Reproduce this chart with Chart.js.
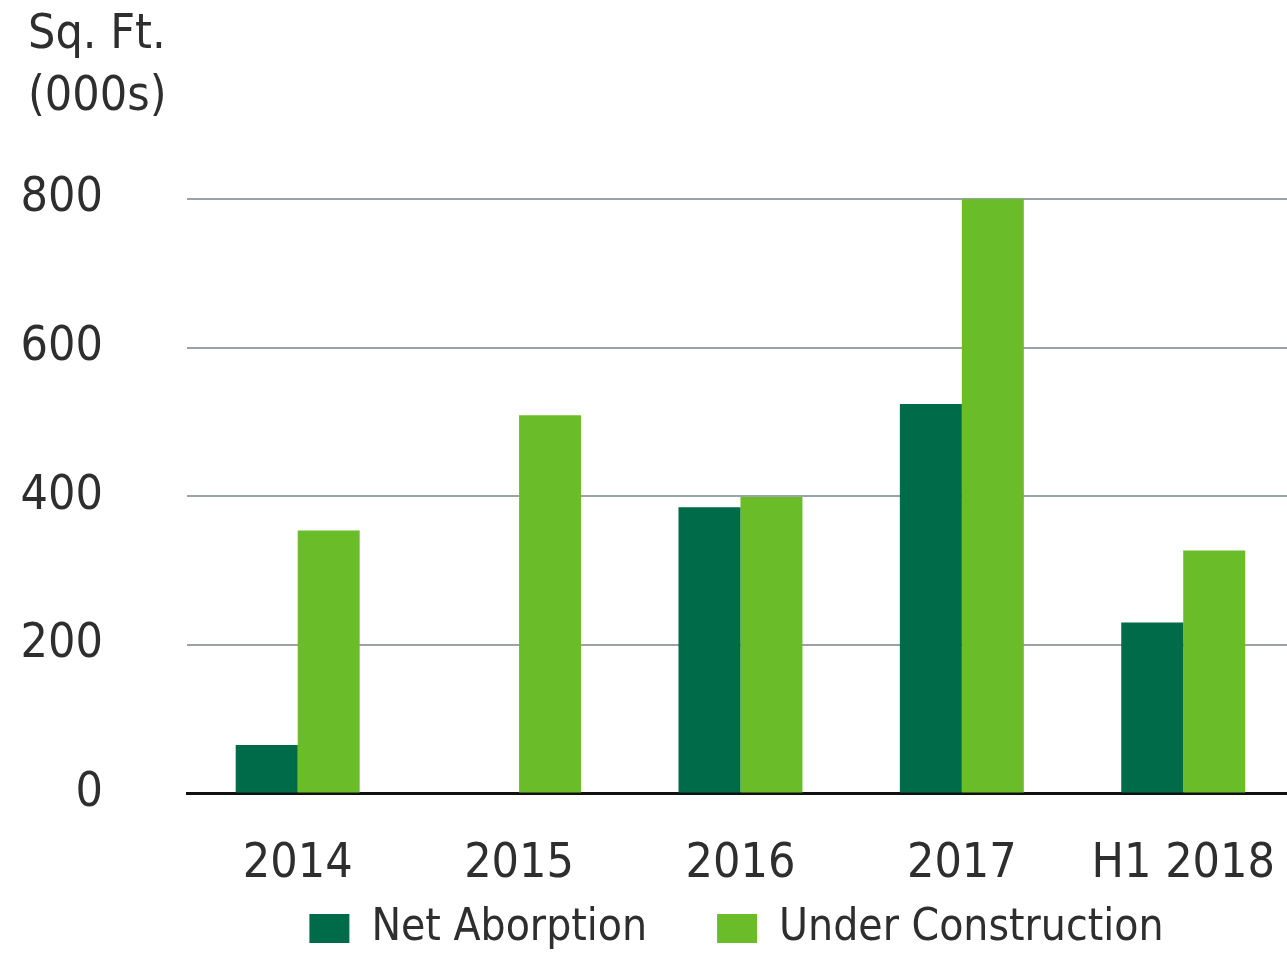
<!DOCTYPE html>
<html>
<head>
<meta charset="utf-8">
<script src="https://cdn.jsdelivr.net/npm/chart.js@4.4.0/dist/chart.umd.min.js"></script>
<style>
html, body { margin:0; padding:0; background:#fff; overflow:hidden; }
#wrap { position:relative; width:1317px; height:953px; }
</style>
</head>
<body>
<div id="wrap"><canvas id="chart"></canvas></div>
<script>
const categories = ['2014', '2015', '2016', '2017', 'H1 2018'];
const netAbsorption = [65, null, 385, 524, 230];
const underConstruction = [354, 509, 399, 800, 327];
const yTicks = [0, 200, 400, 600, 800];
const unitLabel = ['Sq. Ft.', '(000s)'];
const seriesNames = ['Net Aborption', 'Under Construction'];

const FONT = '"DejaVu Sans Condensed", "DejaVu Sans", sans-serif';
const TEXT = '#2e2e2e';

// unit label in the top left corner
const unitTitle = {
    id: 'unitTitle',
    afterDraw(chart) {
        const ctx = chart.ctx;
        ctx.save();
        ctx.font = '48px ' + FONT;
        ctx.fillStyle = TEXT;
        ctx.textAlign = 'left';
        ctx.textBaseline = 'alphabetic';
        ctx.fillText(unitLabel[0], 28, 48);
        ctx.fillText(unitLabel[1], 28, 110);
        ctx.restore();
    }
};

// legend sits centred under the plot area, just below the year labels
const legendShift = {
    id: 'legendShift',
    afterLayout(chart) {
        const lg = chart.legend, area = chart.chartArea;
        lg.left = area.left;
        lg.right = area.right - 8;
        const h = lg.bottom - lg.top;
        lg.top = area.bottom + 113 - 70;
        lg.bottom = lg.top + h;
    }
};

new Chart(document.getElementById('chart'), {
    type: 'bar',
    data: {
        labels: categories,
        datasets: [
            { label: seriesNames[0], data: netAbsorption, backgroundColor: '#006b48', borderWidth: 0 },
            { label: seriesNames[1], data: underConstruction, backgroundColor: '#6abd29', borderWidth: 0 }
        ]
    },
    options: {
        responsive: true,
        maintainAspectRatio: false,
        animation: false,
        datasets: { bar: { categoryPercentage: 0.56, barPercentage: 1.0 } },
        layout: { padding: { top: 199, left: 0, right: 0, bottom: -106 } },
        plugins: {
            tooltip: { enabled: false },
            title: { display: false },
            legend: {
                position: 'bottom',
                labels: {
                    font: { family: FONT, size: 44 },
                    color: TEXT,
                    boxWidth: 40,
                    boxHeight: 29,
                    padding: 70
                }
            }
        },
        scales: {
            x: {
                grid: { display: false, drawTicks: false },
                border: { display: true, color: '#111', width: 3 },
                ticks: { font: { family: FONT, size: 48 }, color: TEXT, padding: 42, maxRotation: 0, autoSkip: false }
            },
            y: {
                min: 0,
                max: yTicks[yTicks.length - 1],
                afterBuildTicks: s => { s.ticks = yTicks.map(v => ({ value: v })); },
                grid: { color: '#9ba2a6', lineWidth: 2, drawTicks: false, tickLength: 0 },
                border: { display: false },
                ticks: { font: { family: FONT, size: 48 }, color: TEXT, padding: 84 },
                afterFit: s => { s.width = 187; }
            }
        }
    },
    plugins: [unitTitle, legendShift]
});
</script>
</body>
</html>
